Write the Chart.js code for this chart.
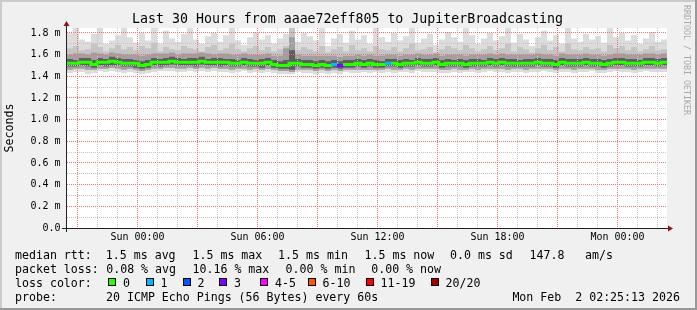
<!DOCTYPE html>
<html><head><meta charset="utf-8">
<script src="https://cdn.jsdelivr.net/npm/chart.js@4/dist/chart.umd.min.js"></script>
<style>
html,body{margin:0;padding:0;background:#f0f0f0;}
#wrap{position:relative;width:697px;height:310px;overflow:hidden;}
canvas{position:absolute;left:0;top:0;}
.t{position:absolute;white-space:pre;font-family:'DejaVu Sans Mono',monospace;font-size:11.6px;line-height:14px;color:#000;}
.box{position:absolute;width:8px;height:8px;box-sizing:border-box;border:1px solid #000;}
#title{left:-1px;width:697px;text-align:center;top:11px;font-size:13.25px;line-height:16px;}
#wm{left:682px;top:5px;font-size:8.3px;line-height:10px;color:#a8a8a8;writing-mode:vertical-rl;}
</style></head>
<body>
<div id="wrap">
<canvas id="c" width="697" height="310"></canvas>
<div class="t" id="title">Last 30 Hours from aaae72eff805 to JupiterBroadcasting</div>
<div class="t" id="wm">RRDTOOL / TOBI OETIKER</div>
</div>
<script>
// ---- time axis (hours relative to Sun 00:00) ----
const startHour = -3.525;
const spanHours = 30;
const xTickHours = [0, 6, 12, 18, 24];
const xTickLabels = ['Sun 00:00', 'Sun 06:00', 'Sun 12:00', 'Sun 18:00', 'Mon 00:00'];
const hourGrid = [-3,-2,-1,0,1,2,3,4,5,6,7,8,9,10,11,12,13,14,15,16,17,18,19,20,21,22,23,24,25,26];
const yGrid = [0,0.1,0.2,0.3,0.4,0.5,0.6,0.7,0.8,0.9,1.0,1.1,1.2,1.3,1.4,1.5,1.6,1.7,1.8];
const yTickValues = [0,0.2,0.4,0.6,0.8,1.0,1.2,1.4,1.6,1.8];
const yTickLabels = ['0.0','0.2 m','0.4 m','0.6 m','0.8 m','1.0 m','1.2 m','1.4 m','1.6 m','1.8 m'];
const yMax = 1.846;

// ---- smoke: per-column ping spread (ms), 100 columns over 30 h ----
const pingMax = [
1.80,1.846,1.74,1.72,1.79,1.846,1.70,1.73,1.78,1.846,
1.76,1.71,1.80,1.73,1.846,1.70,1.82,1.75,1.72,1.79,
1.846,1.74,1.70,1.77,1.80,1.72,1.78,1.846,1.73,1.69,
1.76,1.81,1.74,1.78,1.70,1.75,1.79,1.846,1.72,1.80,
1.77,1.73,1.846,1.68,1.75,1.79,1.71,1.82,1.74,1.78,
1.70,1.846,1.76,1.72,1.80,1.73,1.77,1.846,1.71,1.75,
1.79,1.69,1.74,1.81,1.76,1.72,1.846,1.78,1.70,1.75,
1.80,1.73,1.77,1.846,1.71,1.79,1.74,1.68,1.76,1.82,
1.73,1.78,1.70,1.846,1.75,1.72,1.79,1.74,1.77,1.71,
1.846,1.76,1.80,1.73,1.78,1.70,1.75,1.81,1.72,1.74];
const pingHi3 = [
1.66,1.68,1.64,1.65,1.70,1.67,1.63,1.66,1.69,1.65,
1.67,1.64,1.68,1.66,1.71,1.63,1.67,1.65,1.64,1.68,
1.66,1.65,1.63,1.67,1.69,1.64,1.66,1.70,1.65,1.63,
1.66,1.68,1.64,1.67,1.63,1.65,1.68,1.846,1.64,1.67,
1.65,1.63,1.68,1.62,1.65,1.67,1.63,1.69,1.64,1.66,
1.63,1.68,1.65,1.64,1.67,1.63,1.66,1.70,1.64,1.65,
1.67,1.62,1.65,1.68,1.66,1.64,1.69,1.66,1.63,1.65,
1.68,1.64,1.66,1.70,1.63,1.67,1.65,1.62,1.66,1.69,
1.64,1.67,1.63,1.70,1.65,1.64,1.67,1.65,1.66,1.63,
1.69,1.66,1.68,1.64,1.67,1.63,1.65,1.68,1.64,1.65];
const pingHi2 = [
1.60,1.61,1.61,1.60,1.62,1.61,1.60,1.62,1.61,1.60,
1.60,1.60,1.59,1.60,1.61,1.61,1.61,1.62,1.60,1.61,
1.61,1.61,1.62,1.61,1.60,1.61,1.61,1.60,1.60,1.61,
1.60,1.60,1.60,1.61,1.59,1.59,1.66,1.76,1.60,1.59,
1.59,1.59,1.59,1.59,1.59,1.58,1.59,1.59,1.60,1.59,
1.60,1.59,1.59,1.60,1.60,1.59,1.60,1.60,1.61,1.60,
1.60,1.61,1.59,1.60,1.60,1.60,1.59,1.60,1.60,1.60,
1.61,1.60,1.61,1.60,1.60,1.60,1.60,1.60,1.61,1.60,
1.60,1.59,1.61,1.60,1.60,1.60,1.61,1.60,1.60,1.59,
1.60,1.61,1.61,1.60,1.60,1.60,1.61,1.61,1.60,1.61];
const pingHi1 = [
1.56,1.55,1.57,1.57,1.55,1.57,1.56,1.58,1.57,1.56,
1.56,1.55,1.54,1.55,1.57,1.56,1.57,1.58,1.57,1.56,
1.57,1.57,1.58,1.56,1.57,1.57,1.56,1.56,1.55,1.57,
1.56,1.55,1.56,1.57,1.55,1.54,1.55,1.64,1.56,1.55,
1.55,1.54,1.55,1.54,1.55,1.54,1.55,1.55,1.56,1.55,
1.56,1.55,1.54,1.56,1.56,1.55,1.56,1.55,1.57,1.56,
1.56,1.57,1.55,1.56,1.55,1.56,1.55,1.56,1.56,1.55,
1.57,1.56,1.57,1.56,1.56,1.55,1.56,1.56,1.57,1.56,
1.56,1.55,1.57,1.56,1.56,1.56,1.57,1.56,1.56,1.55,
1.56,1.57,1.57,1.56,1.56,1.55,1.57,1.57,1.56,1.57];
const medianRtt = [
1.52,1.52,1.53,1.53,1.51,1.53,1.53,1.54,1.53,1.52,
1.52,1.52,1.50,1.51,1.53,1.53,1.53,1.54,1.53,1.53,
1.53,1.53,1.54,1.53,1.53,1.53,1.53,1.52,1.52,1.53,
1.52,1.52,1.52,1.53,1.51,1.50,1.50,1.52,1.52,1.51,
1.51,1.50,1.51,1.50,1.51,1.50,1.51,1.51,1.52,1.51,
1.52,1.51,1.51,1.52,1.52,1.51,1.52,1.52,1.53,1.52,
1.52,1.53,1.51,1.52,1.52,1.52,1.51,1.52,1.52,1.52,
1.53,1.52,1.53,1.52,1.52,1.52,1.52,1.52,1.53,1.52,
1.52,1.51,1.53,1.52,1.52,1.52,1.53,1.52,1.52,1.51,
1.52,1.53,1.53,1.52,1.52,1.52,1.53,1.53,1.52,1.53];
const pingLo1 = [
1.49,1.49,1.50,1.49,1.48,1.50,1.49,1.50,1.50,1.49,
1.49,1.48,1.47,1.48,1.50,1.49,1.50,1.51,1.50,1.50,
1.50,1.49,1.51,1.50,1.50,1.49,1.50,1.49,1.49,1.50,
1.49,1.49,1.48,1.50,1.48,1.47,1.47,1.46,1.49,1.48,
1.48,1.47,1.48,1.47,1.48,1.47,1.48,1.48,1.49,1.48,
1.49,1.48,1.48,1.49,1.49,1.48,1.49,1.49,1.50,1.49,
1.49,1.50,1.48,1.49,1.49,1.49,1.48,1.49,1.49,1.49,
1.50,1.49,1.50,1.49,1.49,1.49,1.49,1.49,1.50,1.49,
1.49,1.48,1.50,1.49,1.49,1.49,1.50,1.49,1.49,1.48,
1.49,1.50,1.50,1.49,1.49,1.49,1.50,1.50,1.49,1.50];
const pingLo2 = [
1.46,1.47,1.47,1.46,1.46,1.47,1.47,1.48,1.47,1.46,
1.47,1.46,1.45,1.46,1.47,1.47,1.48,1.48,1.47,1.47,
1.48,1.47,1.48,1.47,1.48,1.47,1.47,1.46,1.47,1.47,
1.46,1.47,1.46,1.47,1.46,1.45,1.45,1.44,1.46,1.46,
1.46,1.45,1.46,1.45,1.46,1.45,1.46,1.46,1.46,1.46,
1.46,1.46,1.46,1.47,1.46,1.46,1.47,1.46,1.47,1.47,
1.47,1.47,1.46,1.46,1.47,1.46,1.46,1.47,1.46,1.47,
1.47,1.47,1.47,1.46,1.47,1.47,1.46,1.47,1.47,1.47,
1.47,1.46,1.47,1.47,1.46,1.47,1.47,1.47,1.46,1.46,
1.47,1.47,1.47,1.47,1.46,1.47,1.47,1.47,1.47,1.47];
const pingMin = [
1.43,1.44,1.44,1.42,1.43,1.45,1.44,1.45,1.44,1.43,
1.44,1.43,1.42,1.43,1.44,1.45,1.45,1.45,1.44,1.44,
1.45,1.44,1.45,1.44,1.45,1.44,1.44,1.43,1.44,1.45,
1.43,1.44,1.43,1.44,1.43,1.42,1.42,1.42,1.44,1.43,
1.43,1.42,1.43,1.42,1.43,1.42,1.44,1.43,1.43,1.44,
1.43,1.44,1.43,1.44,1.43,1.44,1.44,1.43,1.45,1.44,
1.44,1.44,1.43,1.43,1.44,1.43,1.44,1.44,1.43,1.44,
1.45,1.44,1.44,1.43,1.44,1.44,1.43,1.44,1.44,1.45,
1.44,1.43,1.44,1.44,1.43,1.44,1.44,1.45,1.43,1.43,
1.44,1.45,1.44,1.44,1.43,1.44,1.45,1.44,1.44,1.44];
// lost pings (of 20) per column
const lossCount = [
0,0,0,0,0,0,0,0,0,0, 0,0,0,0,0,0,0,0,0,0,
0,0,0,0,0,0,0,0,0,0, 0,0,0,0,0,0,0,0,0,0,
0,0,0,0,1,3,0,0,0,0, 0,0,0,1,0,0,0,0,0,0,
0,0,0,0,0,0,0,0,0,0, 0,0,0,0,0,0,0,0,0,0,
0,0,0,0,0,0,0,0,0,0, 0,0,0,0,0,0,0,0,0,0];

// ---- legend ----
const lossLabels = ['0','1','2','3','4-5','6-10','11-19','20/20'];
const lossColors = ['#26ff00','#00b8ff','#0059ff','#7e00ff','#ff00ff','#ff5500','#ff0000','#a10000'];
const lossUpper = [0,1,2,3,5,10,19,20];
const rttStats = ['median rtt:','1.5 ms avg','1.5 ms max','1.5 ms min','1.5 ms now','0.0 ms sd','147.8','am/s'];
const lossStats = ['packet loss:','0.08 % avg','10.16 % max','0.00 % min','0.00 % now'];
const probeText = ['probe:','20 ICMP Echo Pings (56 Bytes) every 60s','Mon Feb  2 02:25:13 2026'];

// layout of legend (pixels)
const rowTops = [247.5, 261.5, 275.5, 289.5];
const rttX = [15, 105.8, 192.5, 278.1, 364.5, 450, 529.5, 585];
const lossX = [15, 106.2, 192.5, 285.6, 371.2];
const boxX = [108, 145.5, 182.5, 219, 260, 307.5, 365.5, 430.5];
const probeX = [15, 106, 512.4];

const wrap = document.getElementById('wrap');
function addText(txt, x, y){ const d=document.createElement('div'); d.className='t'; d.textContent=txt; d.style.left=x+'px'; d.style.top=y+'px'; wrap.appendChild(d); }
rttStats.forEach((s,i)=>addText(s, rttX[i], rowTops[0]));
lossStats.forEach((s,i)=>addText(s, lossX[i], rowTops[1]));
addText('loss color:', 15, rowTops[2]);
lossLabels.forEach((s,i)=>{
  const b=document.createElement('div'); b.className='box'; b.style.left=boxX[i]+'px'; b.style.top=(rowTops[2]+2.5)+'px'; b.style.background=lossColors[i]; wrap.appendChild(b);
  addText(s, boxX[i]+15, rowTops[2]);
});
probeText.forEach((s,i)=>addText(s, probeX[i], rowTops[3]));

function lossColor(n){ for(let k=0;k<lossUpper.length;k++){ if(n<=lossUpper[k]) return lossColors[k]; } return lossColors[lossColors.length-1]; }

const N = medianRtt.length;
const colH = spanHours / N;
function series(arr){ const pts=[]; for(let i=0;i<=N;i++){ pts.push({x:startHour+i*colH, y:arr[Math.min(i,N-1)]}); } return pts; }

const base = {pointRadius:0, borderWidth:0, borderColor:'rgba(0,0,0,0)', stepped:true, fill:false};
const datasets = [
  {...base, label:'median', data:series(medianRtt), borderWidth:3, borderColor:'#26ff00', borderCapStyle:'butt',
    segment:{borderColor: c => lossColor(lossCount[Math.min(c.p0DataIndex,N-1)])}},
  {...base, label:'hi1', data:series(pingHi1), fill:2, backgroundColor:'#5e5e5e'},
  {...base, label:'lo1', data:series(pingLo1)},
  {...base, label:'hi2', data:series(pingHi2), fill:5, backgroundColor:'#a0a0a0'},
  {...base, label:'hi3', data:series(pingHi3), fill:5, backgroundColor:'#c4c4c4'},
  {...base, label:'lo2', data:series(pingLo2)},
  {...base, label:'max', data:series(pingMax), fill:7, backgroundColor:'#dcdcdc'},
  {...base, label:'min', data:series(pingMin)}
];

const MONO = "'DejaVu Sans Mono', monospace";
const majorGrid = '#ee7070';
const minorGrid = '#c4c4c4';

function isMultiple(v, m){ return Math.abs(v/m - Math.round(v/m)) < 1e-6; }

// dotted rrdtool-style grid, positioned by the chart's own scales
function drawGrid(chart){
  const {ctx, chartArea:a, scales} = chart;
  const xs = scales.x, ys = scales.y;
  const top = Math.round(a.top), bot = Math.round(a.bottom), left = Math.round(a.left), right = Math.round(a.right);
  ctx.save();
  yGrid.forEach(v=>{
    if (v === 0 || isMultiple(v,0.2)) return;
    const py = Math.round(ys.getPixelForValue(v) - 0.5);
    ctx.fillStyle = minorGrid;
    for(let xx=left; xx<right; xx+=2) ctx.fillRect(xx, py, 1, 1);
  });
  hourGrid.forEach(h=>{
    if (isMultiple(h,3)) return;
    const px = Math.round(xs.getPixelForValue(h) - 0.5);
    ctx.fillStyle = minorGrid;
    for(let yy=top; yy<bot; yy+=2) ctx.fillRect(px, yy, 1, 1);
  });
  yGrid.forEach(v=>{
    if (v === 0 || !isMultiple(v,0.2)) return;
    const py = Math.round(ys.getPixelForValue(v) - 0.5);
    ctx.fillStyle = majorGrid;
    for(let xx=left; xx<right; xx+=2) ctx.fillRect(xx, py, 1, 1);
  });
  hourGrid.forEach(h=>{
    if (!isMultiple(h,3)) return;
    const px = Math.round(xs.getPixelForValue(h) - 0.5);
    ctx.fillStyle = majorGrid;
    for(let yy=top; yy<bot; yy+=2) ctx.fillRect(px, yy, 1, 1);
  });
  ctx.restore();
}

const frame = {
  id:'frame',
  beforeDraw(chart){
    const {ctx, chartArea:a, width:w, height:h} = chart;
    ctx.save();
    ctx.fillStyle='#f0f0f0'; ctx.fillRect(0,0,w,h);
    ctx.fillStyle='#ffffff'; ctx.fillRect(a.left,a.top,a.right-a.left,a.bottom-a.top);
    ctx.fillStyle='#cbcbcb'; ctx.fillRect(0,0,w,2); ctx.fillRect(0,0,2,h);
    ctx.fillStyle='#999999'; ctx.fillRect(0,h-2,w,2); ctx.fillRect(w-2,0,2,h);
    ctx.restore();
  },
  afterDatasetDraw(chart, args){
    if (args.index === 1) drawGrid(chart);   // grid over smoke, under median line
  },
  afterDraw(chart){
    const {ctx, chartArea:a} = chart;
    ctx.save();
    ctx.strokeStyle='#222'; ctx.lineWidth=1;
    ctx.beginPath(); ctx.moveTo(a.left-5, a.bottom+0.5); ctx.lineTo(a.right+2, a.bottom+0.5); ctx.stroke();
    ctx.beginPath(); ctx.moveTo(a.left-0.5, a.bottom+4); ctx.lineTo(a.left-0.5, a.top-2); ctx.stroke();
    ctx.fillStyle='#8b1414';
    ctx.beginPath(); ctx.moveTo(a.right+6, a.bottom+0.5); ctx.lineTo(a.right+1, a.bottom-2.5); ctx.lineTo(a.right+1, a.bottom+3.5); ctx.closePath(); ctx.fill();
    ctx.beginPath(); ctx.moveTo(a.left-0.5, a.top-7); ctx.lineTo(a.left-3.5, a.top-2); ctx.lineTo(a.left+2.5, a.top-2); ctx.closePath(); ctx.fill();
    ctx.restore();
  }
};

new Chart(document.getElementById('c'), {
  type:'line',
  data:{datasets},
  options:{
    responsive:false, animation:false, events:[],
    layout:{padding:{top:28, left:0, right:30, bottom:0}},
    plugins:{legend:{display:false}, title:{display:false}, tooltip:{enabled:false}},
    elements:{point:{radius:0}, line:{tension:0}},
    scales:{
      x:{type:'linear', min:startHour, max:startHour+spanHours,
        afterFit(s){ s.height = 82; },
        afterBuildTicks(s){ s.ticks = hourGrid.map(v=>({value:v})); },
        ticks:{autoSkip:false, maxRotation:0, padding:3.5, color:'#000', font:{family:MONO, size:10},
          callback:(v)=>{ const k=xTickHours.indexOf(v); return k>=0 ? xTickLabels[k] : ''; }},
        grid:{display:false, drawTicks:false},
        border:{display:false}
      },
      y:{min:0, max:yMax,
        afterFit(s){ s.width = 67; },
        afterBuildTicks(s){ s.ticks = yGrid.map(v=>({value:v})); },
        ticks:{autoSkip:false, padding:6.5, color:'#000', font:{family:MONO, size:10},
          callback:(v)=>{ const k=yTickValues.findIndex(t=>Math.abs(t-v)<1e-6); return k>=0 ? yTickLabels[k] : ''; }},
        title:{display:true, text:'Seconds', color:'#000', font:{family:MONO, size:11.6}, padding:{top:3.3, bottom:0}},
        grid:{display:false, drawTicks:false},
        border:{display:false}
      }
    }
  },
  plugins:[frame]
});
</script>
</body></html>
